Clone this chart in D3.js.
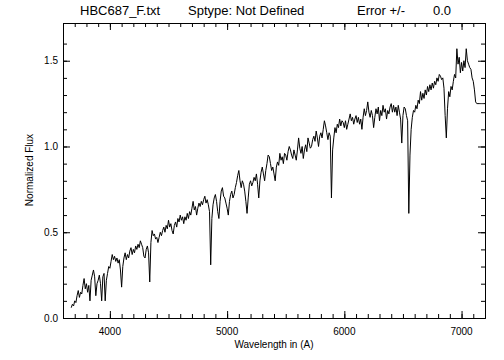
<!DOCTYPE html>
<html>
<head>
<meta charset="utf-8">
<script src="https://cdn.jsdelivr.net/npm/d3@7"></script>
<style>
  html, body { margin: 0; padding: 0; background: #fff; }
  svg { display: block; }
  text { font-family: "Liberation Sans", "DejaVu Sans", sans-serif; fill: #000; }
</style>
</head>
<body>
<svg id="chart" width="504" height="360"></svg>
<script>
// ---- data ----
const titleParts = ["HBC687_F.txt", "Sptype: Not Defined", "Error +/-", "0.0"];
const xLabel = "Wavelength in (A)";
const yLabel = "Normalized Flux";
const xTicks = [4000, 5000, 6000, 7000];
const yTicks = [0.0, 0.5, 1.0, 1.5];
const xDomain = [3600, 7200];
const yDomain = [0, 1.72];
const waveStart = 3670;   // Angstrom, first sample
const waveStep = 10;      // Angstrom between samples
const flux = [
  0.06,0.08,0.07,0.10,0.09,0.13,0.16,0.12,0.15,0.14,
  0.19,0.23,0.17,0.20,0.15,0.19,0.10,0.22,0.25,0.28,
  0.24,0.13,0.20,0.22,0.25,0.20,0.10,0.24,0.26,0.10,
  0.22,0.26,0.30,0.29,0.33,0.37,0.34,0.36,0.33,0.35,
  0.32,0.34,0.28,0.18,0.30,0.35,0.38,0.34,0.37,0.35,
  0.39,0.41,0.37,0.40,0.38,0.42,0.40,0.43,0.41,0.45,
  0.43,0.41,0.36,0.35,0.40,0.42,0.38,0.21,0.44,0.51,
  0.48,0.49,0.46,0.47,0.44,0.47,0.50,0.48,0.51,0.53,
  0.50,0.54,0.52,0.57,0.53,0.55,0.51,0.49,0.54,0.56,
  0.53,0.58,0.56,0.60,0.57,0.59,0.55,0.59,0.57,0.61,
  0.58,0.62,0.60,0.64,0.68,0.63,0.65,0.60,0.64,0.67,
  0.65,0.68,0.66,0.69,0.71,0.67,0.69,0.66,0.62,0.31,
  0.58,0.66,0.70,0.72,0.68,0.62,0.58,0.68,0.74,0.76,
  0.71,0.70,0.67,0.64,0.60,0.68,0.72,0.74,0.70,0.72,
  0.76,0.79,0.83,0.86,0.80,0.76,0.80,0.78,0.74,0.68,
  0.61,0.70,0.78,0.80,0.77,0.79,0.82,0.80,0.84,0.78,
  0.70,0.80,0.85,0.88,0.84,0.80,0.86,0.90,0.95,0.94,
  0.90,0.86,0.88,0.84,0.80,0.88,0.91,0.89,0.96,0.92,
  0.94,0.90,0.96,0.95,0.92,0.97,1.00,0.98,0.95,0.93,
  0.98,0.95,0.92,0.98,1.05,0.99,0.96,1.00,0.93,0.98,
  1.01,0.97,1.05,1.02,0.99,1.00,1.04,1.06,1.03,1.09,
  1.05,1.00,1.06,1.08,1.05,1.10,1.15,1.12,1.08,1.04,
  1.08,1.06,0.70,0.98,1.05,1.11,1.08,1.13,1.11,1.16,
  1.12,1.15,1.14,1.11,1.15,1.10,1.13,1.16,1.19,1.15,
  1.17,1.13,1.16,1.18,1.14,1.17,1.13,1.16,1.10,1.17,
  1.22,1.18,1.21,1.26,1.20,1.17,1.21,1.18,1.11,1.17,
  1.22,1.19,1.23,1.15,1.21,1.18,1.24,1.20,1.22,1.16,
  1.21,1.19,1.23,1.25,1.20,1.24,1.20,1.23,1.18,1.24,
  1.20,1.16,1.02,1.18,1.23,1.22,1.18,1.15,0.61,0.95,
  1.10,1.17,1.21,1.20,1.24,1.22,1.27,1.25,1.32,1.27,
  1.31,1.28,1.33,1.30,1.35,1.32,1.36,1.33,1.37,1.34,
  1.38,1.36,1.40,1.38,1.42,1.41,1.39,1.40,1.34,1.18,
  1.05,1.22,1.32,1.29,1.35,1.33,1.38,1.42,1.40,1.57,
  1.48,1.52,1.43,1.49,1.44,1.50,1.46,1.57,1.50,1.48,
  1.46,1.45,1.40,1.38,1.33,1.26,1.25,1.25,1.25,1.25,
  1.25,1.25,1.25,1.25
];

// ---- layout ----
const svg = d3.select("#chart");
const L = 63, R = 485, T = 23, B = 318;
const x = d3.scaleLinear().domain(xDomain).range([L, R]);
const y = d3.scaleLinear().domain(yDomain).range([B, T]);

const points = flux.map((f, i) => ({w: waveStart + i * waveStep, f}));

// spectrum
svg.append("path")
  .datum(points)
  .attr("fill", "none")
  .attr("stroke", "#000")
  .attr("stroke-width", 1)
  .attr("stroke-linejoin", "round")
  .attr("d", d3.line().x(d => x(d.w)).y(d => y(d.f)));

// axes (IDL style box, ticks inside)
const xMinor = d3.range(xDomain[0], xDomain[1] + 1, 100);
const yMinor = d3.range(0, 17).map(i => +(i * 0.1).toFixed(1));
const MAJ = 7, MIN = 4;

function styleAxis(g) {
  g.selectAll("path.domain").attr("stroke", "#000").attr("stroke-width", 1);
  g.selectAll("line").attr("stroke", "#000").attr("stroke-width", 1);
}

// bottom
svg.append("g").attr("transform", `translate(0,${B})`)
  .call(d3.axisTop(x).tickValues(xMinor).tickSize(MIN).tickSizeOuter(0).tickFormat(""))
  .call(styleAxis);
svg.append("g").attr("transform", `translate(0,${B})`)
  .call(d3.axisTop(x).tickValues(xTicks).tickSize(MAJ).tickSizeOuter(0).tickFormat(""))
  .call(styleAxis);
// top
svg.append("g").attr("transform", `translate(0,${T})`)
  .call(d3.axisBottom(x).tickValues(xMinor).tickSize(MIN).tickSizeOuter(0).tickFormat(""))
  .call(styleAxis);
svg.append("g").attr("transform", `translate(0,${T})`)
  .call(d3.axisBottom(x).tickValues(xTicks).tickSize(MAJ).tickSizeOuter(0).tickFormat(""))
  .call(styleAxis);
// left
svg.append("g").attr("transform", `translate(${L},0)`)
  .call(d3.axisRight(y).tickValues(yMinor).tickSize(MIN).tickSizeOuter(0).tickFormat(""))
  .call(styleAxis);
svg.append("g").attr("transform", `translate(${L},0)`)
  .call(d3.axisRight(y).tickValues(yTicks).tickSize(MAJ).tickSizeOuter(0).tickFormat(""))
  .call(styleAxis);
// right
svg.append("g").attr("transform", `translate(${R},0)`)
  .call(d3.axisLeft(y).tickValues(yMinor).tickSize(MIN).tickSizeOuter(0).tickFormat(""))
  .call(styleAxis);
svg.append("g").attr("transform", `translate(${R},0)`)
  .call(d3.axisLeft(y).tickValues(yTicks).tickSize(MAJ).tickSizeOuter(0).tickFormat(""))
  .call(styleAxis);

// tick labels
svg.append("g").selectAll("text").data(xTicks).join("text")
  .attr("x", d => x(d)).attr("y", B + 17)
  .attr("text-anchor", "middle").attr("font-size", 10)
  .text(d => d);
svg.append("g").selectAll("text").data(yTicks).join("text")
  .attr("x", L - 5).attr("y", d => y(d) + 3.5)
  .attr("text-anchor", "end").attr("font-size", 10)
  .text(d => d.toFixed(1));

// axis titles
svg.append("text").attr("x", (L + R) / 2).attr("y", 348)
  .attr("text-anchor", "middle").attr("font-size", 10).text(xLabel);
svg.append("text").attr("transform", `translate(33,170) rotate(-90)`)
  .attr("text-anchor", "middle").attr("font-size", 10).text(yLabel);

// title
const titleX = [80, 188, 357, 433];
svg.append("g").selectAll("text").data(titleParts).join("text")
  .attr("x", (d, i) => titleX[i]).attr("y", 15)
  .attr("font-size", 13)
  .text(d => d);
</script>
</body>
</html>
